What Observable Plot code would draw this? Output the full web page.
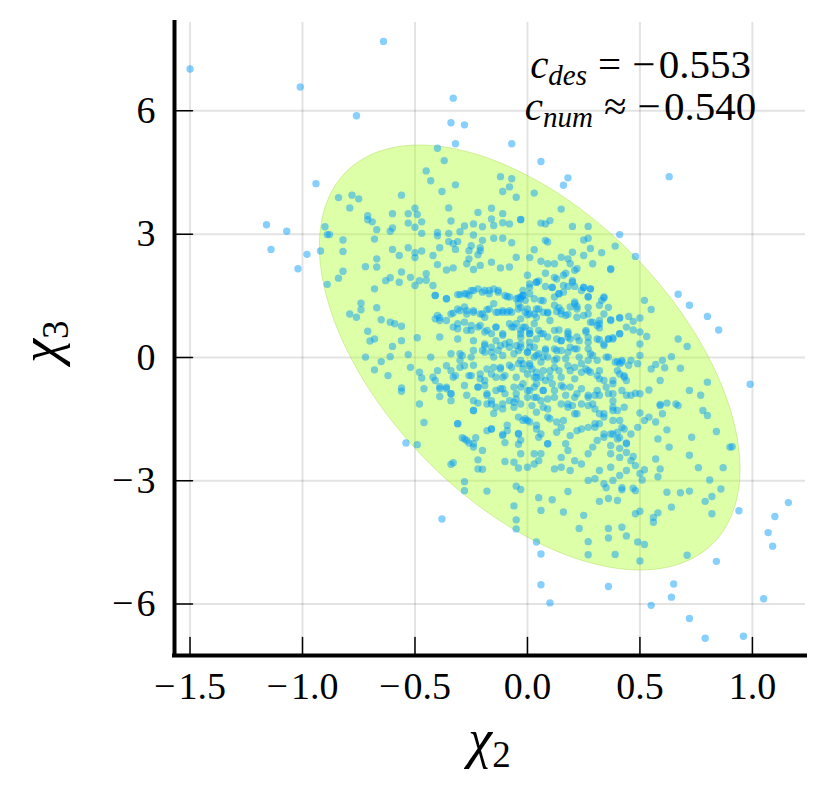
<!DOCTYPE html>
<html><head><meta charset="utf-8">
<script src="https://cdn.jsdelivr.net/npm/d3@7"></script>
<script src="https://cdn.jsdelivr.net/npm/@observablehq/plot@0.6"></script>
<style>
body{margin:0;background:#fff}
#chart{width:830px;height:806px}
</style>
</head><body><div id="chart"></div>
<script>
// ---- axis setup ----
const xTicks = [-1.5, -1, -0.5, 0, 0.5, 1];
const yTicks = [-6, -3, 0, 3, 6];
const xDomain = [-1.569, 1.236];
const yDomain = [-7.25, 8.15];

// ---- annotation values ----
const cDes = "−\u200A0.553";
const cNum = "−\u200A0.540";
const annotX = 0.505;
const annotY = [6.78, 5.76];

// ---- ellipse parameters ----
const ellipseCenter = [0.01, 0];
const ellipseSx = 0.935;
const ellipseSy = 5.17;
const ellipseRho = -0.525;

// ---- scatter samples (χ2, χ3) ----
const outliers = [
[-1.50,7.02],[-0.64,7.69],[-1.01,6.58],[-0.76,5.88],[-0.33,6.31],[-0.34,5.71],[-0.28,5.66],[-0.32,5.20],[-0.07,5.20],[-0.94,4.23],[-1.16,3.23],[-1.07,3.07],[-1.14,2.63],[-0.98,2.51],[-0.92,2.59],[-1.02,2.16],[-0.89,1.78],
[0.06,4.77],[0.18,4.37],[0.16,4.19],[0.63,4.40],[0.41,2.99],[0.48,2.46],[0.67,1.54],[0.72,1.27],[0.80,1.00],[0.85,0.67],[0.99,-0.65],
[-0.54,-2.08],[-0.49,-2.12],[-0.38,-3.93],[-0.28,-3.24],[0.04,-4.49],[0.06,-4.78],[0.06,-5.53],[0.10,-5.97],[0.36,-5.57],[0.55,-6.03],[0.65,-5.51],[0.64,-5.83],[0.72,-6.35],[0.79,-6.83],[0.96,-6.78],[0.84,-4.96],[0.94,-3.73],[1.05,-5.87],[1.07,-4.26],[1.09,-4.59],[1.10,-3.87],[1.16,-3.53]
];
const upperPts = [
[-0.40,5.09],[-0.37,4.79],[-0.45,4.54],[-0.43,4.30],[-0.32,4.20],[-0.38,4.04],[-0.56,3.95],[-0.84,3.89],[-0.78,3.95],[-0.75,3.86],[-0.79,3.64],[-0.71,3.45],[-0.71,3.35],[-0.69,3.30],[-0.67,3.11],[-0.68,2.88],[-0.82,2.86],[-0.82,2.58],[-0.90,3.18],[-0.89,2.99],[-0.60,3.50],[-0.53,3.50],[-0.50,3.63],[-0.49,3.48],[-0.47,3.30],[-0.53,3.27],[-0.50,3.17],[-0.61,3.07],[-0.60,3.15],[-0.47,3.02],[-0.60,2.63],[-0.57,2.48],[-0.53,2.67],[-0.50,2.55],[-0.50,2.43],[-0.47,2.59],[-0.42,2.48],[-0.39,2.67],[-0.40,2.96],[-0.40,3.04],[-0.35,3.02],[-0.35,2.82],[-0.33,2.77],[-0.31,2.82],[-0.32,2.63],[-0.34,3.32],[-0.35,3.64],[-0.30,3.06],[-0.28,3.20],[-0.24,3.25],[-0.20,3.18],[-0.24,2.98],[-0.20,2.85],[-0.25,2.72],[-0.26,2.60],[-0.21,2.60],[-0.21,2.67],[-0.26,2.40],[-0.27,2.28],[-0.22,2.50],[-0.21,2.24],[-0.16,2.32],[-0.15,2.90],[-0.11,2.90],[-0.07,2.79],[-0.15,3.21],[-0.16,3.37],[-0.16,3.63],[-0.22,3.53],[-0.11,3.50],[-0.11,3.28],[-0.08,3.25],[-0.12,4.40],[-0.07,4.35],[-0.08,4.15],[-0.11,4.04],[-0.05,3.90],[-0.03,3.35],[-0.05,2.44],
[0.03,4.00],[0.15,3.61],[-0.03,3.36],[0.06,3.27],[0.08,3.25],[0.10,3.33],[0.20,3.19],[0.27,3.19],[0.08,2.85],[0.09,2.81],[0.03,2.62],[0.25,2.86],[0.27,2.90],[0.25,2.48],[0.33,2.55],[0.39,2.71],[0.01,2.43],[0.06,2.34],[0.09,2.28],[0.12,2.28],[0.15,2.44],[0.18,2.40],[0.19,2.28],[0.22,2.16],[0.29,2.28],[0.37,2.16],[0.28,2.65],[0.20,2.56]
];
const leftPts = [
[-0.88,2.99],[-0.72,2.21],[-0.67,2.40],[-0.67,2.20],[-0.82,2.10],[-0.84,1.93],[-0.79,1.06],[-0.76,0.98],[-0.74,1.32],[-0.74,1.16],[-0.71,0.64],[-0.70,0.40],[-0.68,0.45],[-0.68,1.67],[-0.67,1.21],[-0.65,0.92],[-0.61,0.86],[-0.59,0.82],[-0.56,0.76],[-0.60,0.27],[-0.56,0.41],[-0.53,0.07],[-0.49,0.48],[-0.52,-0.24],[-0.48,-0.36],[-0.47,-0.50],[-0.46,-0.76],[-0.43,0.01],[-0.42,-0.48],[-0.39,-0.71],[-0.39,-0.95],[-0.36,-0.76],[-0.34,-0.88],[-0.56,-0.74],[-0.56,-0.82],[-0.62,-0.44],[-0.65,-0.10],[-0.68,-0.30],[-0.72,0.01],[-0.61,0.02],[-0.63,1.87],[-0.61,1.94],[-0.57,1.83],[-0.56,2.08],[-0.52,1.95],[-0.48,1.87],[-0.45,2.04],[-0.42,1.75],[-0.40,2.26],[-0.36,2.13],[-0.33,2.18],[-0.24,2.14],[-0.12,2.18],[-0.08,2.20],
[-0.50,1.75],[-0.45,1.88],[-0.41,1.51],[-0.36,1.43],[-0.31,1.53],[-0.27,1.55],[-0.24,1.63],[-0.20,1.59],[-0.17,1.63],[-0.13,1.63],[-0.10,1.51],[-0.08,1.47],[-0.05,1.43],[-0.02,1.51],[0.01,1.55],
[-0.41,0.94],[-0.39,0.97],[-0.36,0.90],[-0.33,1.08],[-0.30,1.14],[-0.27,1.14],[-0.24,1.10],[-0.20,1.06],[-0.18,1.16],[-0.14,1.10],[-0.11,1.10],[-0.08,1.14],[-0.04,1.18],[-0.01,1.10],[0.03,1.06],
[-0.31,0.70],[-0.27,0.66],[-0.22,0.74],[-0.18,0.66],[-0.14,0.74],[-0.11,0.58],[-0.06,0.74],[-0.03,0.66],[0.01,0.58],[0.05,0.66],[-0.31,0.45],[-0.24,0.41],[-0.19,0.33],[-0.14,0.41],[-0.12,0.29],[-0.08,0.37],[-0.03,0.33],[0.03,0.25],
[-0.30,0.09],[-0.25,0.01],[-0.19,0.13],[-0.15,0.01],[-0.11,0.05],[-0.06,0.09],[0.00,0.13],[0.03,0.01],[-0.30,-0.24],[-0.24,-0.19],[-0.18,-0.28],[-0.12,-0.24],[-0.08,-0.19],[-0.02,-0.15],[0.02,-0.28],[-0.33,-0.48],[-0.26,-0.44],[-0.21,-0.52],[-0.16,-0.40],[-0.11,-0.48],[-0.05,-0.48],[0.03,-0.48],[-0.28,-0.68],[-0.22,-0.72],[-0.18,-0.88],[-0.12,-0.76],[-0.06,-0.72],[0.00,-0.80],[0.04,-0.64],[-0.24,-1.05],[-0.16,-1.05],[-0.11,-1.13],[-0.05,-1.01],[0.03,-0.97]
];
const rightPts = [
[0.37,2.14],[0.21,2.12],[0.08,2.05],[0.12,1.95],[0.13,1.91],[0.16,2.00],[0.17,2.05],[0.20,1.87],[0.00,2.00],[0.04,1.83],[0.05,1.86],[0.21,1.73],[0.18,1.73],[0.25,1.70],[0.24,1.63],[0.28,1.67],[0.11,1.70],[0.16,1.59],[0.14,1.55],[0.12,1.47],[-0.03,1.47],[-0.01,1.39],[0.03,1.43],[0.06,1.39],[0.27,1.47],[0.33,1.39],[0.34,1.47],[0.21,1.35],[0.22,1.24],[0.27,1.22],[0.14,1.21],[0.15,1.14],[0.13,1.12],[0.04,1.18],[0.07,1.38],[0.52,1.39],[0.55,1.17],[0.36,1.22],
[0.00,1.04],[0.04,0.98],[0.09,1.08],[0.10,0.90],[0.18,1.05],[0.22,0.98],[0.25,1.02],[0.28,0.86],[0.32,0.90],[0.37,0.92],[0.41,0.96],[0.45,1.00],[0.47,0.88],[0.50,0.96],
[0.31,0.78],[0.32,0.72],[0.26,0.66],[0.18,0.63],[0.14,0.67],[0.06,0.58],
[0.47,0.67],[0.50,0.62],[0.53,0.51],[0.50,0.33],[0.41,0.58],[0.38,0.48],[0.36,0.45],[0.32,0.43],[0.34,0.29],[0.67,0.45],[0.71,0.27],[0.27,0.49],[0.23,0.41],[0.18,0.49],[0.15,0.41],
[0.08,0.21],[0.12,0.21],[0.13,0.17],[0.18,0.13],[0.21,0.21],[0.27,0.21],[0.28,0.09],[-0.03,0.25],[0.05,0.09],
[0.36,0.01],[0.40,-0.10],[0.42,-0.07],[0.46,-0.07],[0.50,0.05],[0.49,-0.15],[0.45,-0.19],[0.41,-0.15],[0.55,-0.28],[0.57,-0.17],[0.60,-0.07],[0.64,0.02],[0.61,-0.25],[0.68,-0.26],
[0.59,-0.56],[0.54,-0.79],[0.50,-0.88],[0.46,-0.92],[0.48,-0.87],[0.41,-0.40],[0.43,-0.48],[0.38,-0.64],[0.32,-0.52],[0.72,-0.80],[0.77,-0.92],[0.80,-0.60],[0.62,-1.11],[0.66,-1.13],[0.59,-1.17],[0.67,-1.17],
[0.27,-0.32],[0.32,-0.32],[0.24,-0.15],[0.21,-0.24],[0.31,-0.80],[0.36,-0.88],[0.27,-0.97],[0.24,-1.13],[0.29,-1.13],[0.38,-1.06],
[-0.02,1.63],[0.01,1.71],[-0.03,1.22],[-0.03,0.94],[0.03,0.82],[-0.02,0.74],[0.01,0.66],[-0.03,0.49],[0.01,0.37],[-0.03,-0.07],[0.01,-0.15],[0.06,-0.11],[0.07,0.01],[0.10,-0.32],[0.06,-0.48],[0.00,-0.40],[-0.02,-0.64],[0.03,-0.72],[0.07,-0.80],[0.11,-0.64],[0.15,-0.48],[0.16,-0.72],[0.19,-0.72],[0.12,-0.97],[0.06,-1.05],[0.00,-0.97],[0.18,-1.13],[0.21,-0.97]
];
const corePts = [
[-0.41,1.51],[-0.36,1.43],[-0.30,1.53],[-0.28,1.55],[-0.26,1.51],[-0.25,1.63],[-0.22,1.67],[-0.19,1.63],[-0.17,1.55],[-0.15,1.67],[-0.13,1.59],[-0.09,1.48],[-0.04,1.45],[-0.02,1.51],[0.01,1.79],[0.04,1.83],[0.08,1.73],[0.11,1.71],[0.14,1.55],[0.16,1.75],[0.20,1.83],[0.25,1.71],[0.28,1.67],[0.27,1.48],[0.34,1.45],[0.32,1.27],
[-0.40,1.02],[-0.39,0.90],[-0.34,1.06],[-0.31,1.18],[-0.28,1.23],[-0.27,1.06],[-0.24,1.14],[-0.21,1.06],[-0.19,0.98],[-0.17,1.18],[-0.15,1.31],[-0.13,1.10],[-0.11,1.14],[-0.09,1.10],[-0.07,1.10],[-0.04,1.31],[-0.03,1.43],[0.00,1.18],[0.01,1.06],[0.05,1.18],[0.07,1.10],[0.09,1.10],[0.12,1.27],[0.15,1.06],[0.17,1.02],[0.19,1.23],[0.21,1.31],[0.22,1.18],[0.27,1.06],[0.29,0.86],[0.32,0.82],[0.34,1.06],[0.37,0.90],[0.41,0.97],[0.44,0.74],
[-0.39,0.50],[-0.33,0.74],[-0.31,0.82],[-0.28,0.86],[-0.25,0.78],[-0.25,0.66],[-0.21,0.78],[-0.19,0.62],[-0.16,0.58],[-0.14,0.74],[-0.11,0.54],[-0.08,0.82],[-0.07,0.74],[-0.05,0.82],[-0.03,0.58],[-0.01,0.74],[0.01,0.58],[0.04,0.45],[0.07,0.58],[0.09,0.50],[0.12,0.66],[0.13,0.45],[0.15,0.41],[0.18,0.58],[0.19,0.45],[0.22,0.50],[0.26,0.62],[0.27,0.37],[0.31,0.45],[0.34,0.33],[0.36,0.45],[0.38,0.45],[0.41,0.58],
[-0.34,0.09],[-0.29,0.05],[-0.30,-0.07],[-0.24,0.17],[-0.20,0.17],[-0.19,0.29],[-0.16,0.25],[-0.16,0.13],[-0.13,0.17],[-0.10,0.33],[-0.08,0.25],[-0.05,0.29],[-0.04,0.17],[0.00,0.13],[0.01,0.25],[0.04,0.05],[0.08,0.17],[0.09,0.01],[0.12,-0.07],[0.13,-0.03],[0.15,0.17],[0.17,-0.03],[0.19,0.25],[0.22,0.21],[0.23,0.01],[0.27,-0.07],[0.29,0.05],[0.31,-0.07],[0.35,0.01],[0.39,-0.11],[0.42,-0.11],
[-0.40,-0.32],[-0.36,-0.20],[-0.34,-0.32],[-0.32,-0.44],[-0.28,-0.20],[-0.25,-0.44],[-0.21,-0.40],[-0.19,-0.56],[-0.15,-0.24],[-0.14,-0.48],[-0.12,-0.28],[-0.10,-0.44],[-0.07,-0.24],[-0.04,-0.15],[-0.02,-0.28],[0.01,-0.20],[0.04,-0.48],[0.04,-0.36],[0.07,-0.32],[0.08,-0.56],[0.10,-0.48],[0.12,-0.24],[0.14,-0.32],[0.18,-0.20],[0.19,-0.32],[0.21,-0.52],[0.24,-0.36],[0.26,-0.28],[0.28,-0.36],[0.31,-0.44],[0.34,-0.56],[0.38,-0.56],[0.40,-0.32],[0.43,-0.44],[0.44,-0.56],
[-0.41,-0.56],[-0.39,-0.76],[-0.36,-0.72],[-0.34,-0.88],[-0.27,-0.92],[-0.22,-0.72],[-0.19,-0.68],[-0.18,-0.92],[-0.14,-0.80],[-0.11,-0.76],[-0.10,-0.88],[-0.05,-0.88],[-0.03,-0.72],[0.01,-0.80],[0.04,-0.97],[0.07,-0.80],[0.09,-1.01],[0.12,-0.80],[0.15,-0.68],[0.17,-0.92],[0.22,-0.88],[0.24,-0.76],[0.27,-0.92],[0.30,-0.92],[0.32,-0.92],[0.35,-0.72],[0.38,-0.88],[0.42,-0.80],[0.44,-0.92],
[-0.24,-1.29],[-0.16,-1.13],[-0.14,-1.21],[-0.08,-1.05],[-0.06,-1.21],[-0.04,-1.45],[-0.01,-1.49],[0.02,-1.17],[0.04,-1.33],[0.07,-1.21],[0.09,-1.25],[0.15,-1.13],[0.18,-1.21],[0.20,-1.17],[0.22,-1.37],[0.27,-1.17],[0.30,-1.25],[0.32,-1.37],[0.34,-1.45],[0.38,-1.21],[0.40,-1.29],[0.43,-1.21],
[-0.31,-1.61],[-0.28,-1.98],[-0.24,-2.10],[-0.16,-1.74],[-0.11,-1.90],[-0.09,-1.65],[-0.04,-1.86],[-0.02,-1.53],[0.01,-1.57],[0.04,-1.74],[0.05,-1.94],[0.09,-2.10],[0.09,-1.45],[0.13,-1.57],[0.15,-1.70],[0.17,-2.10],[0.19,-1.90],[0.22,-1.78],[0.24,-1.74],[0.27,-1.70],[0.30,-1.70],[0.32,-1.61],[0.34,-1.86],[0.38,-1.53],[0.38,-1.86],[0.40,-1.98],[0.42,-1.70],[0.44,-2.10],[0.37,-2.14]
];
const lowerPts = [
[-0.48,-1.13],[-0.46,-1.58],[-0.34,-1.05],[-0.31,-1.61],[-0.24,-1.29],[-0.22,-1.11],[-0.18,-1.13],[-0.15,-1.36],[-0.11,-1.25],[-0.06,-1.09],[-0.03,-1.13],
[-0.29,-1.95],[-0.27,-2.02],[-0.26,-2.08],[-0.23,-1.95],[-0.24,-2.18],[-0.20,-2.26],[-0.18,-1.78],[-0.16,-1.74],[-0.11,-1.87],[-0.09,-1.78],[-0.10,-2.07],[-0.04,-1.85],[-0.03,-2.01],[-0.04,-2.11],[0.03,-2.34],[0.05,-2.51],[-0.06,-2.55],[-0.10,-2.53],[-0.22,-2.49],[-0.22,-2.71],[-0.20,-2.72],[-0.34,-2.60],[-0.33,-2.56],[-0.04,-2.69],
[-0.28,-3.02],[-0.18,-3.25],[-0.05,-3.13],[-0.03,-3.21],[-0.06,-3.61],[-0.05,-3.95],[-0.05,-4.17],[0.05,-3.41],[0.06,-3.72],
[0.78,-1.29],[0.80,-1.41],[0.84,-1.80],[0.73,-1.94],[0.72,-2.38],[0.63,-2.18],[0.62,-1.76],[0.58,-1.98],[0.57,-1.57],[0.54,-1.45],[0.52,-1.53],[0.50,-1.35],[0.60,-1.37],[0.59,-1.14],
[0.90,-2.18],[0.91,-2.17],[0.87,-2.68],[0.76,-2.68],[0.81,-2.98],[0.86,-3.20],[0.82,-3.38],[0.79,-3.50],[0.82,-3.80],[0.72,-3.25],[0.68,-3.29],[0.62,-3.28],[0.64,-3.64],[0.58,-3.78],[0.56,-3.89],[0.56,-4.01],[0.50,-3.74],[0.48,-3.80],[0.47,-3.18],[0.48,-3.24],[0.42,-3.17],[0.42,-3.22],[0.35,-3.17],[0.36,-3.43],[0.40,-3.48],[0.32,-3.50],[0.18,-3.26],[0.11,-3.46],[0.16,-3.76],[0.25,-3.84],[0.23,-4.16],[0.36,-4.16],[0.36,-4.39],[0.42,-4.13],[0.44,-4.34],[0.27,-4.48],[0.27,-4.80],[0.39,-4.79],[0.49,-4.49],[0.52,-4.55],[0.50,-4.95],[0.71,-4.81],
[0.58,-2.90],[0.57,-2.47],[0.59,-2.71],[0.52,-2.73],[0.50,-2.82],[0.51,-2.98],[0.48,-2.63],[0.47,-2.41],[0.44,-2.31],[0.46,-1.86],[0.49,-1.70],[0.44,-2.08],[0.41,-2.21],[0.37,-2.34],[0.41,-1.95],[0.40,-1.82],
[0.00,-1.53],[0.04,-1.65],[0.06,-1.86],[0.09,-2.10],[0.12,-2.71],[0.15,-2.67],[0.19,-2.75],[0.21,-2.51],[0.24,-2.59],[0.27,-2.34],[0.29,-2.18],[0.31,-2.02],[0.34,-1.94],[0.37,-1.86],[0.30,-1.61],[0.34,-1.37],[0.38,-1.29],[0.41,-1.53],[0.43,-1.74],[0.21,-1.37],[0.16,-1.53],[0.13,-1.82],[0.10,-1.49],[0.18,-2.26],[0.15,-2.43],[0.06,-2.34],[0.03,-2.59],[0.27,-2.99],[0.30,-2.95],[0.34,-3.07],[0.38,-2.99],[0.41,-2.87],[0.44,-2.75],[0.46,-2.51],[0.41,-2.43],[0.37,-2.67],[0.32,-2.75],[0.00,-2.67],[-0.03,-2.34]
];

// ---- build tables ----
const points = [...outliers, ...upperPts, ...leftPts, ...rightPts, ...corePts, ...lowerPts].map(([x, y]) => ({x, y}));
const sq = Math.sqrt(1 - ellipseRho * ellipseRho);
const ellipse = d3.range(0, 360, 2).map(a => {
  const t = a * Math.PI / 180;
  return {
    x: ellipseCenter[0] + ellipseSx * Math.cos(t),
    y: ellipseCenter[1] + ellipseSy * (ellipseRho * Math.cos(t) + sq * Math.sin(t))
  };
});
const minus = s => String(s).replace("-", "−\u200A");
const tickShape = {draw(ctx, l) { ctx.moveTo(0, 0); ctx.lineTo(0, -l); }};
const FONT = "'Liberation Serif', 'Times New Roman', serif";

const plot = Plot.plot({
  width: 830, height: 806,
  marginLeft: 174, marginRight: 25, marginTop: 22, marginBottom: 151,
  x: {domain: xDomain},
  y: {domain: yDomain},
  style: {fontFamily: FONT, fontSize: "38px", color: "black", background: "white", overflow: "visible"},
  marks: [
    Plot.gridX(xTicks, {stroke: "#000", strokeOpacity: 0.11, strokeWidth: 2}),
    Plot.gridY(yTicks, {stroke: "#000", strokeOpacity: 0.11, strokeWidth: 2}),
    Plot.line(ellipse, {x: "x", y: "y", curve: "linear-closed", fill: "#adff2f", fillOpacity: 0.42, stroke: "#9acd32", strokeOpacity: 0.35, strokeWidth: 1}),
    Plot.dot(points, {x: "x", y: "y", r: 3.7, fill: "#009afa", fillOpacity: 0.47, stroke: null}),
    Plot.axisX(xTicks, {tickSize: 0, tickPadding: 17, label: null, fontSize: 38, tickFormat: d => minus(d.toFixed(1))}),
    Plot.axisY(yTicks, {tickSize: 0, tickPadding: 19, label: null, fontSize: 38, tickFormat: d => minus(d)}),
    Plot.vectorX(xTicks, {x: d => d, frameAnchor: "bottom", length: 18, anchor: "start", shape: tickShape, stroke: "black", strokeWidth: 1.5}),
    Plot.vectorY(yTicks, {y: d => d, frameAnchor: "left", rotate: 90, length: 18, anchor: "start", shape: tickShape, stroke: "black", strokeWidth: 1.5}),
    Plot.ruleX([xDomain[0]], {stroke: "black", strokeWidth: 4, strokeLinecap: "square"}),
    Plot.ruleY([yDomain[0]], {stroke: "black", strokeWidth: 4, strokeLinecap: "square"})
  ]
});

// ---- math-style text (subscripts) ----
const svg = d3.select(plot);
const sx = plot.scale("x"), sy = plot.scale("y");
const ax = sx.apply(annotX);
function mathLine(y, sub, rel, val) {
  const t = svg.append("text").attr("x", ax).attr("y", sy.apply(y))
    .attr("text-anchor", "middle").attr("font-family", FONT).attr("font-size", 41).attr("fill", "black");
  t.append("tspan").attr("font-style", "italic").text("c");
  t.append("tspan").attr("font-style", "italic").attr("font-size", 29).attr("dy", 7).text(sub);
  t.append("tspan").attr("dy", -7).attr("dx", 11).text(rel);
  t.append("tspan").attr("dx", 11).text(val);
}
mathLine(annotY[0], "des", "=", cDes);
mathLine(annotY[1], "num", "≈", cNum);

const fx = (174 + 805) / 2, fy = (22 + 655) / 2;
const xl = svg.append("text").attr("x", fx).attr("y", 757).attr("text-anchor", "middle")
  .attr("font-family", FONT).attr("font-size", 54).attr("fill", "black");
xl.append("tspan").attr("font-style", "italic").text("χ");
xl.append("tspan").attr("font-size", 37).attr("dy", 10).text("2");
const yl = svg.append("text").attr("transform", `translate(58,${fy + 3}) rotate(-90)`).attr("text-anchor", "middle")
  .attr("font-family", FONT).attr("font-size", 54).attr("fill", "black");
yl.append("tspan").attr("font-style", "italic").text("χ");
yl.append("tspan").attr("font-size", 37).attr("dy", 10).text("3");

document.getElementById("chart").appendChild(plot);
</script>
</body></html>
